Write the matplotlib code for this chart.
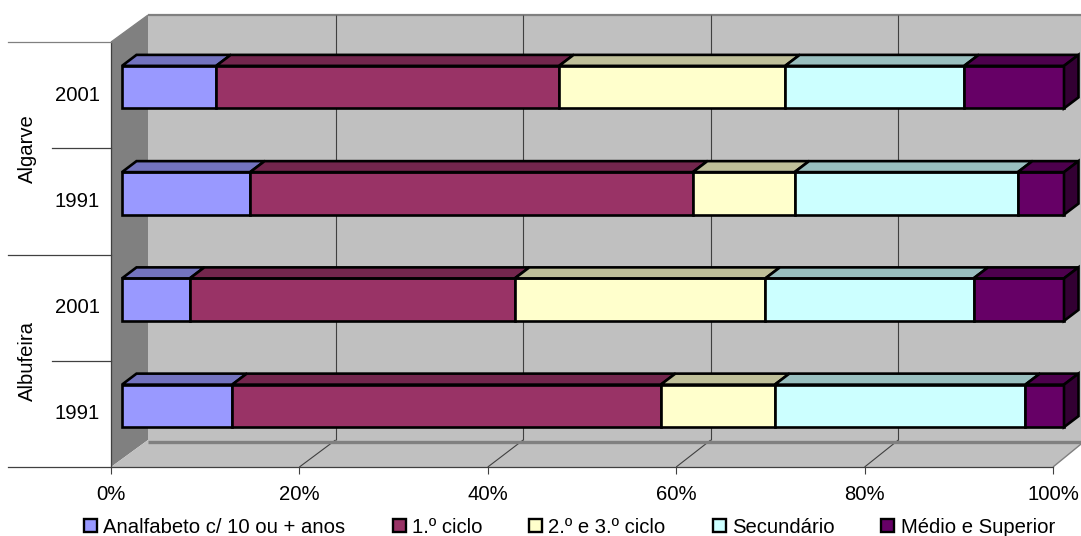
import matplotlib
matplotlib.use("Agg")
import matplotlib.pyplot as plt
from matplotlib.patches import Polygon, Rectangle
from matplotlib.transforms import Affine2D, IdentityTransform

plt.rcParams['font.family'] = ['Liberation Sans', 'DejaVu Sans']

# ---------- data ----------
years = ['1991', '2001', '1991', '2001']
groups = ['Albufeira', 'Algarve']
series = ['Analfabeto c/ 10 ou + anos', '1.º ciclo', '2.º e 3.º ciclo', 'Secundário', 'Médio e Superior']
analfabeto = [11.7, 7.2, 13.6, 10.0]
ciclo1 = [45.5, 34.5, 47.0, 36.4]
ciclo23 = [12.1, 26.6, 10.8, 24.0]
secundario = [26.6, 22.1, 23.7, 19.0]
medio = [4.1, 9.6, 4.9, 10.6]
colors = ['#9999FF', '#993366', '#FFFFCC', '#CCFFFF', '#660066']
tops = ['#7373BF', '#73264D', '#BFBF99', '#99BFBF', '#4D004D']
side = '#330033'
ticks = [0, 20, 40, 60, 80, 100]
tick_labels = ['0%', '20%', '40%', '60%', '80%', '100%']

W, H = 1081, 536
FS = 14.6
fig = plt.figure(figsize=(W / 100, H / 100), dpi=100, facecolor='white')
ax = fig.add_axes([111 / W, (H - 467) / H, 942 / W, 425 / H])
ax.set_xlim(0, 100)
ax.set_ylim(0, 4)
ax.patch.set_visible(False)
for s in ('top', 'right'):
    ax.spines[s].set_visible(False)
for s in ('left', 'bottom'):
    ax.spines[s].set_color('#404040')
    ax.spines[s].set_linewidth(0.9)

# depth offsets in pixels
BAR_FRONT = (11, 8)
BAR_BACK = (25.5, 19)
WALL = (37, 27)


def P(v, y, d=(0, 0)):
    px, py = ax.transData.transform((v, y))
    return (px + d[0], py + d[1])


def B(v, y, extra=0):
    # point on the back wall, whose scale is slightly narrower than the front
    px, py = ax.transData.transform((v, y))
    return (px + WALL[0] - 0.04 * v, py + WALL[1] + extra)


def poly(pts, fc, ec='none', lw=0, z=1, **kw):
    fig.add_artist(Polygon(pts, closed=True, facecolor=fc, edgecolor=ec, linewidth=lw,
                           transform=IdentityTransform(), zorder=z, joinstyle='miter', **kw))


def line(a, b, c, lw, z=2):
    fig.add_artist(plt.Line2D([a[0], b[0]], [a[1], b[1]], color=c, linewidth=lw,
                              transform=IdentityTransform(), zorder=z, solid_capstyle='butt'))


# walls
poly([B(0, 0), B(100, 0), B(100, 4), B(0, 4)], '#C0C0C0', z=-5)
poly([P(0, 0), P(0, 4), B(0, 4), B(0, 0)], '#808080', z=-4)
poly([P(0, 0), P(100, 0), B(100, 0), B(0, 0)], '#C0C0C0', z=-4)
line(P(0, 4), B(0, 4), '#808080', 0.9, z=-3)
line(B(0, 4), B(100, 4), '#808080', 1.6, z=-3)
line(P(100, 0), B(100, 0), '#808080', 1.0, z=-3)
line(B(0, 0, -1.5), B(100, 0, -1.5), '#808080', 2.4, z=-2)

# gridlines on back wall and floor
for t in ticks[1:-1]:
    line(B(t, 0), B(t, 4), '#404040', 0.8, z=-3)
    line(P(t, 0), B(t, 0), '#404040', 0.8, z=-3)

# bars
table = [analfabeto, ciclo1, ciclo23, secundario, medio]
offset = ax.transData + Affine2D().translate(*BAR_FRONT)
EDGE = 1.9
for i in range(len(years)):
    y0, y1 = i + 0.3, i + 0.7
    left = 0
    for j, vals in enumerate(table):
        v = vals[i]
        poly([P(left, y1, BAR_FRONT), P(left + v, y1, BAR_FRONT),
              P(left + v, y1, BAR_BACK), P(left, y1, BAR_BACK)],
             tops[j], 'black', EDGE, z=5)
        left += v
    poly([P(left, y0, BAR_FRONT), P(left, y1, BAR_FRONT),
          P(left, y1, BAR_BACK), P(left, y0, BAR_BACK)],
         side, 'black', EDGE, z=5)
    left = 0
    for j, vals in enumerate(table):
        ax.barh(i + 0.5, vals[i], left=left, height=0.4, color=colors[j], edgecolor='black',
                linewidth=EDGE, transform=offset, zorder=6, clip_on=False)
        left += vals[i]
ax.set_xlim(0, 100)
ax.set_ylim(0, 4)

# axes text
ax.set_xticks(ticks)
ax.set_xticklabels(tick_labels, fontsize=FS, color='black')
ax.tick_params(axis='x', length=5, width=0.8, color='#404040', pad=8)
ax.set_yticks([0.5, 1.5, 2.5, 3.5])
ax.set_yticklabels(years, fontsize=FS, color='black')
ax.tick_params(axis='y', length=0, pad=8)
for lab in ax.get_yticklabels():
    lab.set_verticalalignment('center')

# multi-level category separators and labels
trans = ax.get_yaxis_transform()
for y, x0 in zip([0, 1, 2, 3, 4], [8, 52, 8, 52, 8]):
    xa = (x0 - 111) / 942
    ax.plot([xa, 0], [y, y], transform=trans, color='#808080' if y == 4 else '#404040',
            lw=0.9, clip_on=False, zorder=3)
for y, g in zip([1, 3], groups):
    ax.text((27 - 111) / 942, y, g, transform=trans, rotation=90, ha='center', va='center',
            fontsize=FS, color='black')

# legend
legend_sq = [84, 393, 529, 713, 881]
legend_tx = [103, 412, 548, 732, 901]
for name, c, sx, tx in zip(series, colors, legend_sq, legend_tx):
    fig.add_artist(Rectangle((sx / W, (H - 532) / H), 13 / W, 13 / H, transform=fig.transFigure,
                             facecolor=c, edgecolor='black', linewidth=1.7))
    fig.text(tx / W, (H - 533) / H, name, fontsize=FS, ha='left', va='baseline', color='black')

fig.savefig('out.png', dpi=100, facecolor='white')
